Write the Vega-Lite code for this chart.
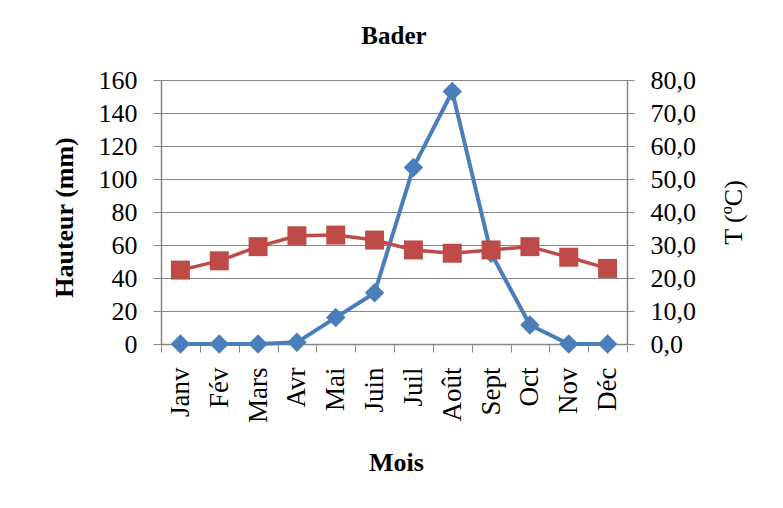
{
  "$schema": "https://vega.github.io/schema/vega-lite/v6.json",
  "width": 466,
  "height": 264,
  "autosize": {"type": "none"},
  "padding": {"left": 161, "top": 80, "right": 156, "bottom": 164},
  "background": "white",
  "title": {
    "text": "Bader",
    "font": "Liberation Serif",
    "fontSize": 25,
    "fontWeight": "bold",
    "color": "#000000",
    "anchor": "middle",
    "baseline": "alphabetic",
    "offset": -2
  },
  "data": {
    "values": [
      {"mois": "Janv", "pluie": 0, "temp": 22.4},
      {"mois": "Fév", "pluie": 0, "temp": 25.2},
      {"mois": "Mars", "pluie": 0, "temp": 29.5},
      {"mois": "Avr", "pluie": 1, "temp": 32.8},
      {"mois": "Mai", "pluie": 16, "temp": 33.0},
      {"mois": "Juin", "pluie": 31, "temp": 31.5},
      {"mois": "Juil", "pluie": 107, "temp": 28.5},
      {"mois": "Août", "pluie": 153, "temp": 27.5},
      {"mois": "Sept", "pluie": 55, "temp": 28.5},
      {"mois": "Oct", "pluie": 11.5, "temp": 29.5},
      {"mois": "Nov", "pluie": 0, "temp": 26.3},
      {"mois": "Déc", "pluie": 0, "temp": 22.9}
    ]
  },
  "encoding": {
    "x": {
      "field": "mois",
      "type": "nominal",
      "sort": null,
      "bandPosition": 0.5,
      "scale": {"type": "band", "paddingInner": 0, "paddingOuter": 0},
      "axis": {
        "title": "Mois",
        "titleFont": "Liberation Serif",
        "titleFontSize": 26,
        "titleFontWeight": "bold",
        "titleColor": "#000000",
        "titleX": 235,
        "titleY": 118,
        "titleAlign": "center",
        "titleBaseline": "middle",
        "labelAngle": -90,
        "labelFont": "Liberation Serif",
        "labelFontSize": 27,
        "labelColor": "#000000",
        "labelPadding": 15,
        "labelOverlap": false,
        "tickBand": "extent",
        "tickSize": 8,
        "tickColor": "#868686",
        "domainColor": "#868686",
        "domainWidth": 1.5,
        "grid": false
      }
    }
  },
  "layer": [
    {
      "mark": {
        "type": "line",
        "color": "#4A7EBB",
        "strokeWidth": 4,
        "point": {"shape": "diamond", "size": 380, "filled": true, "color": "#4A7EBB", "opacity": 1}
      },
      "encoding": {
        "y": {
          "field": "pluie",
          "type": "quantitative",
          "scale": {"domain": [0, 160], "nice": false, "zero": true},
          "axis": {
            "orient": "left",
            "title": "Hauteur (mm)",
            "titleFont": "Liberation Serif",
            "titleFontSize": 26,
            "titleFontWeight": "bold",
            "titleColor": "#000000",
            "titleAngle": -90,
            "titleX": -97,
            "titleY": 137,
            "titleAlign": "center",
            "titleBaseline": "middle",
            "values": [0, 20, 40, 60, 80, 100, 120, 140, 160],
            "labelFont": "Liberation Serif",
            "labelFontSize": 26,
            "labelColor": "#000000",
            "labelPadding": 16,
            "tickSize": 8,
            "tickColor": "#868686",
            "domainColor": "#868686",
            "domainWidth": 1.5,
            "grid": true,
            "gridColor": "#868686",
            "gridWidth": 1,
            "gridOpacity": 1
          }
        }
      }
    },
    {
      "mark": {
        "type": "line",
        "color": "#BE4B48",
        "strokeWidth": 3.5,
        "point": {"shape": "square", "size": 361, "filled": true, "color": "#BE4B48", "opacity": 1}
      },
      "encoding": {
        "y": {
          "field": "temp",
          "type": "quantitative",
          "scale": {"domain": [0, 80], "nice": false, "zero": true},
          "axis": {
            "orient": "right",
            "title": "T (ºC)",
            "titleFont": "Liberation Serif",
            "titleFontSize": 26,
            "titleFontWeight": "normal",
            "titleColor": "#000000",
            "titleAngle": -90,
            "titleX": 106,
            "titleY": 132,
            "titleAlign": "center",
            "titleBaseline": "middle",
            "values": [0, 10, 20, 30, 40, 50, 60, 70, 80],
            "labelExpr": "replace(format(datum.value, '.1f'), '.', ',')",
            "labelFont": "Liberation Serif",
            "labelFontSize": 26,
            "labelColor": "#000000",
            "labelPadding": 16,
            "tickSize": 7,
            "tickColor": "#868686",
            "domainColor": "#868686",
            "domainWidth": 1.5,
            "grid": false
          }
        }
      }
    }
  ],
  "resolve": {"scale": {"y": "independent"}},
  "config": {"view": {"stroke": null}}
}
